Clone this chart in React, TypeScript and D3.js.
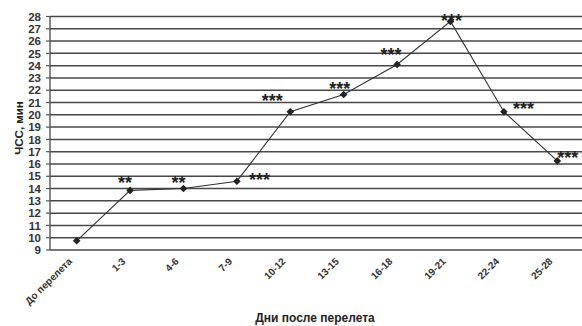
import React from "react";
import * as d3 from "d3";

const categories = ["До перелета", "1-3", "4-6", "7-9", "10-12", "13-15", "16-18", "19-21", "22-24", "25-28"];
const hrValues = [9.75, 13.85, 14.0, 14.6, 20.25, 21.65, 24.1, 27.6, 20.25, 16.25];
const significance = ["", "**", "**", "***", "***", "***", "***", "***", "***", "***"];
const yTicks = d3.range(9, 29);

const W = 582;
const H = 326;
const plot = { left: 50, right: 584, top: 16.5, bottom: 250 };

// label offsets relative to each point (dx, dy) and anchor
const starOffsets: [number, number, string][] = [
  [0, 0, "middle"],
  [-5, -1.3, "middle"],
  [-5, 0.7, "middle"],
  [12, 4.7, "start"],
  [-18, -4.3, "middle"],
  [-4, 0.7, "middle"],
  [-6, -3.3, "middle"],
  [1, 5.7, "middle"],
  [9, 3.7, "start"],
  [0, 2.7, "start"],
];

export default function App() {
  const x = d3
    .scalePoint<string>()
    .domain(categories)
    .range([plot.left, plot.right])
    .padding(0.5);
  const y = d3.scaleLinear().domain([9, 28]).range([plot.bottom, plot.top]);

  const line = d3
    .line<number>()
    .x((_, i) => x(categories[i]) as number)
    .y((d) => y(d));

  const font = "Arial, 'Liberation Sans', sans-serif";

  return (
    <svg
      width={W}
      height={H}
      style={{ position: "absolute", left: 0, top: 0, background: "#fff" }}
      fontFamily={font}
    >
      {/* horizontal grid */}
      {yTicks.map((t) => (
        <line
          key={`g${t}`}
          x1={plot.left}
          x2={W}
          y1={y(t)}
          y2={y(t)}
          stroke="#484848"
          strokeWidth={1.5}
        />
      ))}
      {/* y axis */}
      <line x1={plot.left} x2={plot.left} y1={plot.top} y2={plot.bottom} stroke="#555" strokeWidth={1.4} />
      {yTicks.map((t) => (
        <g key={`t${t}`}>
          <line x1={plot.left - 4} x2={plot.left} y1={y(t)} y2={y(t)} stroke="#555" strokeWidth={1.2} />
          <text
            x={41}
            y={y(t)}
            dy="0.36em"
            textAnchor="end"
            fontSize={11.5}
            fontWeight="bold"
            fill="#333"
          >
            {t}
          </text>
        </g>
      ))}
      {/* x tick labels */}
      {categories.map((c) => {
        const cx = (x(c) as number) - 4;
        const cy = 262;
        return (
          <text
            key={`x${c}`}
            transform={`translate(${cx},${cy}) rotate(-45)`}
            textAnchor="end"
            fontSize={10}
            fontWeight="bold"
            fill="#333"
          >
            {c}
          </text>
        );
      })}
      {/* axis titles */}
      <text
        transform={`translate(23,128) rotate(-90)`}
        textAnchor="middle"
        fontSize={11.5}
        fontWeight="bold"
        fill="#222"
      >
        ЧСС, мин
      </text>
      <text x={315} y={322} textAnchor="middle" fontSize={12} fontWeight="bold" fill="#222">
        Дни после перелета
      </text>
      {/* series */}
      <path d={line(hrValues) ?? ""} fill="none" stroke="#333" strokeWidth={1.1} />
      {hrValues.map((v, i) => {
        const px = x(categories[i]) as number;
        const py = y(v);
        return (
          <path
            key={`m${i}`}
            d={`M${px},${py - 3.8}L${px + 3.8},${py}L${px},${py + 3.8}L${px - 3.8},${py}Z`}
            fill="#222"
          />
        );
      })}
      {/* significance marks */}
      {hrValues.map((v, i) => {
        if (!significance[i]) return null;
        const px = x(categories[i]) as number;
        const py = y(v);
        const [dx, dy, anchor] = starOffsets[i];
        return (
          <text
            key={`s${i}`}
            x={px + dx}
            y={py + dy}
            textAnchor={anchor as any}
            fontSize={18}
            fontWeight="bold"
            fill="#222"
          >
            {significance[i]}
          </text>
        );
      })}
    </svg>
  );
}
